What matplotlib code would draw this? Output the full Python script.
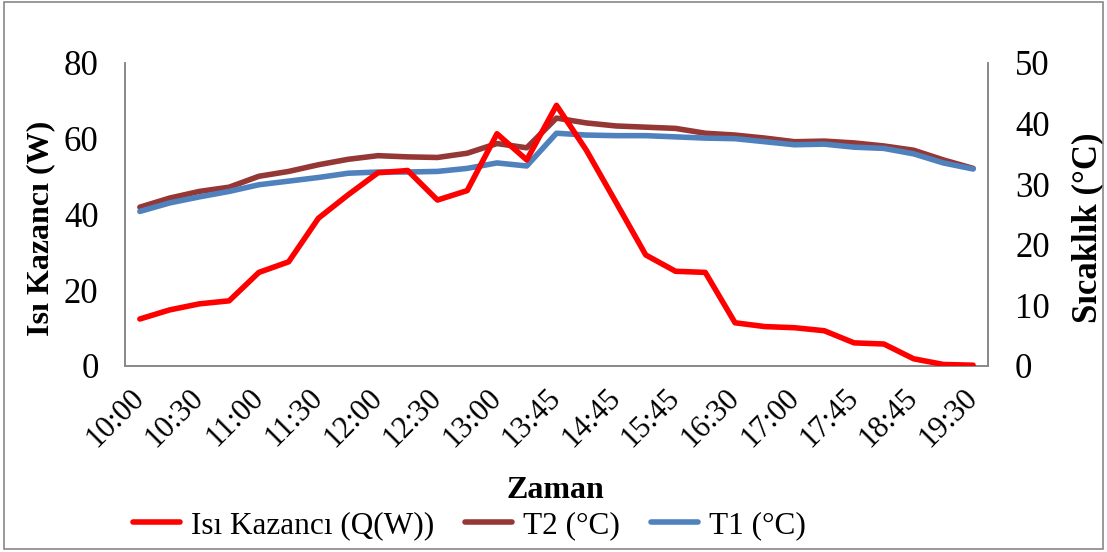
import matplotlib
matplotlib.use('Agg')
import matplotlib.pyplot as plt
import matplotlib.transforms as mtransforms
from matplotlib.patches import Rectangle

# Saat verileri (her 2. etiket eksende gösteriliyor)
saatler = ['10:00', '10:15', '10:30', '10:45', '11:00', '11:15', '11:30', '11:45',
           '12:00', '12:15', '12:30', '12:45', '13:00', '13:30', '13:45', '14:15',
           '14:45', '15:15', '15:45', '16:15', '16:30', '16:45', '17:00', '17:30',
           '17:45', '18:15', '18:45', '19:00', '19:30']

# Isı kazancı Q (W)
isi_kazanci = [12.4, 14.8, 16.4, 17.2, 24.7, 27.5, 39.0, 45.2, 51.0, 51.6,
               43.8, 46.3, 61.3, 54.4, 68.8, 57.0, 43.2, 29.3, 25.0, 24.7,
               11.4, 10.4, 10.1, 9.3, 6.1, 5.8, 1.9, 0.4, 0.2]

# Sıcaklıklar (°C)
t2 = [26.2, 27.7, 28.8, 29.5, 31.3, 32.1, 33.2, 34.1, 34.7, 34.5,
      34.4, 35.1, 36.7, 36.0, 40.9, 40.1, 39.6, 39.4, 39.2, 38.4,
      38.1, 37.6, 37.0, 37.1, 36.8, 36.3, 35.6, 34.0, 32.6]
t1 = [25.5, 26.9, 27.9, 28.8, 29.9, 30.5, 31.1, 31.8, 32.0, 32.0,
      32.1, 32.6, 33.5, 33.0, 38.4, 38.1, 38.0, 38.0, 37.8, 37.6,
      37.5, 37.0, 36.5, 36.6, 36.1, 35.9, 35.0, 33.5, 32.5]

plt.rcParams['font.family'] = ['Liberation Serif', 'DejaVu Serif']

fig = plt.figure(figsize=(11.07, 5.52), dpi=100)
ax = fig.add_axes([0.1129, 0.337, 0.7796, 0.549])
ax2 = ax.twinx()

x = list(range(len(saatler)))
l1, = ax.plot(x, isi_kazanci, color='#FF0000', lw=4.0, solid_capstyle='round',
              label='Isı Kazancı (Q(W))', zorder=3)
l2, = ax2.plot(x, t2, color='#953735', lw=4.0, solid_capstyle='round', label='T2 (°C)')
l3, = ax2.plot(x, t1, color='#4F81BD', lw=4.0, solid_capstyle='round', label='T1 (°C)')
ax.set_zorder(ax2.get_zorder() + 1)
ax.patch.set_visible(False)

ax.set_xlim(-0.5, len(saatler) - 0.5)
ax.set_ylim(0, 80)
ax2.set_ylim(0, 50)
ax.set_yticks([0, 20, 40, 60, 80])
ax2.set_yticks([0, 10, 20, 30, 40, 50])

ax.set_xticks(x[::2])
ax.set_xticklabels(saatler[::2], rotation=45, ha='right', va='center',
                   rotation_mode='anchor')
offset = mtransforms.ScaledTranslation(0.3, 0.0, fig.dpi_scale_trans)
for lbl in ax.get_xticklabels():
    lbl.set_transform(lbl.get_transform() + offset)

for a in (ax, ax2):
    for s in a.spines.values():
        s.set_color('#888888')
        s.set_linewidth(1.2)
    a.tick_params(length=0, colors='black')
ax.tick_params(axis='x', labelsize=22, pad=20)
ax.tick_params(axis='y', labelsize=25, pad=19)
ax2.tick_params(axis='y', labelsize=25, pad=19.5)
ax2.spines['top'].set_visible(False)
ax.spines['top'].set_visible(False)

ax.set_ylabel('Isı Kazancı (W)', fontsize=23, fontweight='bold')
ax2.set_ylabel('Sıcaklık (°C)', fontsize=25, fontweight='bold')
ax.yaxis.set_label_coords(-0.081, 0.455)
ax2.yaxis.set_label_coords(1.097, 0.455)

fig.text(0.502, 0.112, 'Zaman', ha='center', va='center', fontsize=23,
         fontweight='bold')
fig.legend(handles=[l1, l2, l3], loc='center', bbox_to_anchor=(0.424, 0.048),
           ncol=3, frameon=False, fontsize=22.5, handlelength=1.5,
           handletextpad=0.35, columnspacing=1.0)

# Grafik alanı çerçevesi
fig.patches.append(Rectangle((0.004, 0.006), 0.992, 0.99, transform=fig.transFigure,
                             fill=False, edgecolor='#888888', lw=1.2))

fig.savefig('out.png', dpi=100)
